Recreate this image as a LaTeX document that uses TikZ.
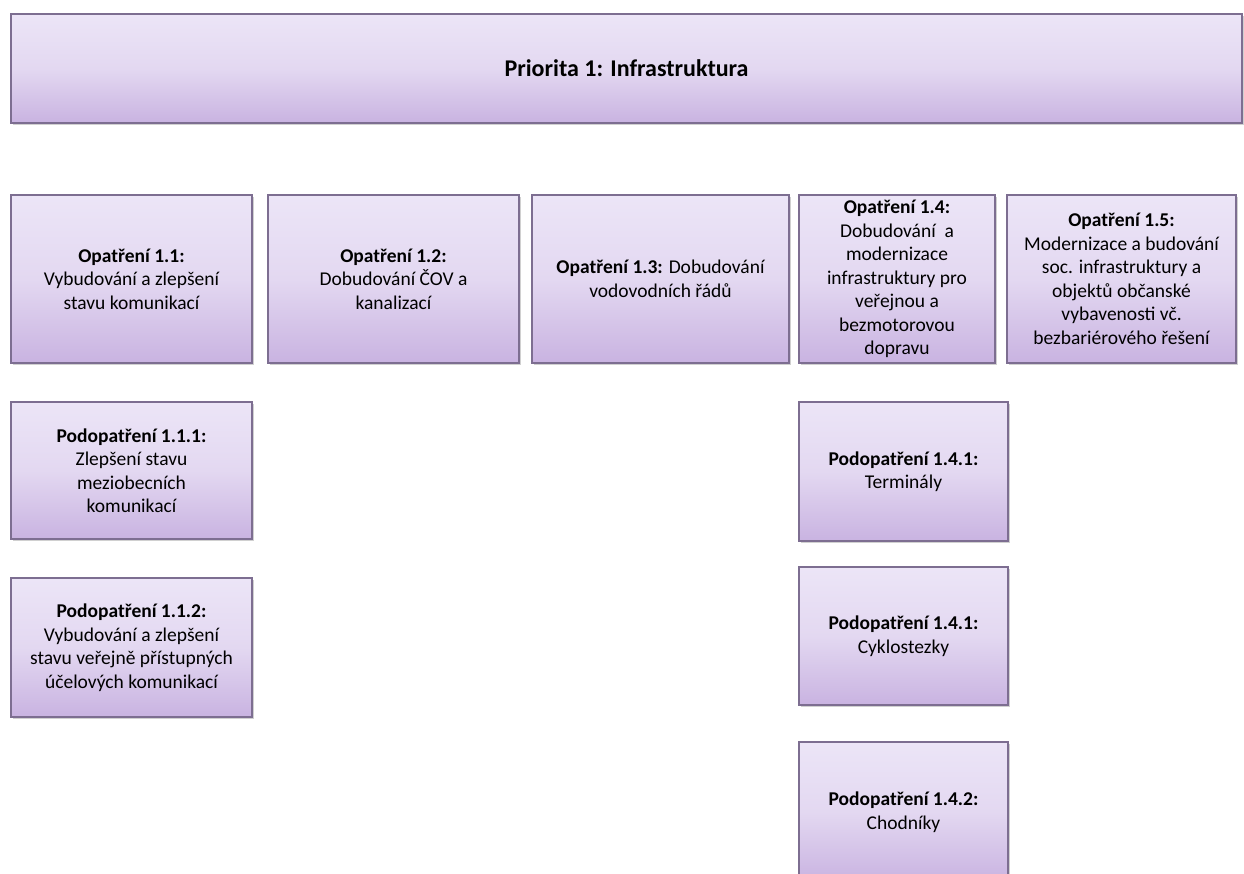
\documentclass[tikz,border=0pt]{standalone}
\usepackage{fontspec}
\setmainfont{Carlito}
\usetikzlibrary{shadows}

\definecolor{boxtop}{HTML}{ECE5F7}
\definecolor{boxmid}{HTML}{E3D8F1}
\definecolor{boxbot}{HTML}{C9B3E1}
\definecolor{boxline}{HTML}{7D6E91}

\begin{document}
\begin{tikzpicture}[x=1pt,y=-1pt,
  box/.style={draw=boxline,line width=1.2pt,top color=boxtop,bottom color=boxbot,middle color=boxmid,
    inner sep=0pt,align=center,text=black,
    font=\fontsize{19.5}{23.5}\selectfont,
    drop shadow={shadow xshift=1.5pt,shadow yshift=-2pt,opacity=0.3,fill=black!60}}]
\clip (0,0) rectangle (1244,874);
\fill[white] (0,0) rectangle (1244,874);

\node[box,minimum width=1231pt,minimum height=109pt,font=\fontsize{24}{28}\selectfont](prio) at (626.5,68.5) {\textbf{Priorita 1: Infrastruktura}};

\node[box,minimum width=241pt,minimum height=168pt](o11) at (131.5,279) {\textbf{Opatření 1.1:}\\Vybudování a zlepšení\\stavu komunikací};
\node[box,minimum width=251pt,minimum height=168pt](o12) at (393.5,279) {\textbf{Opatření 1.2:}\\Dobudování ČOV a\\kanalizací};
\node[box,minimum width=257pt,minimum height=168pt](o13) at (660.5,279) {\textbf{Opatření 1.3:} Dobudování\\vodovodních řádů};
\node[box,minimum width=196pt,minimum height=168pt](o14) at (897,279) {\textbf{Opatření 1.4:}\\Dobudování~ a\\modernizace\\infrastruktury pro\\veřejnou a\\bezmotorovou\\dopravu};
\node[box,minimum width=229pt,minimum height=168pt](o15) at (1121.5,279) {\textbf{Opatření 1.5:}\\Modernizace a budování\\soc. infrastruktury a\\objektů občanské\\vybavenosti vč.\\bezbariérového řešení};

\node[box,minimum width=241pt,minimum height=137pt](p111) at (131.5,470.5) {\textbf{Podopatření 1.1.1:}\\Zlepšení stavu\\meziobecních\\komunikací};
\node[box,minimum width=241pt,minimum height=139pt](p112) at (131.5,647.5) {\textbf{Podopatření 1.1.2:}\\Vybudování a zlepšení\\stavu veřejně přístupných\\účelových komunikací};

\node[box,minimum width=209pt,minimum height=139pt](p141) at (903.5,471.5) {\textbf{Podopatření 1.4.1:}\\Terminály};
\node[box,minimum width=209pt,minimum height=138pt](p141b) at (903.5,636) {\textbf{Podopatření 1.4.1:}\\Cyklostezky};
\node[box,minimum width=209pt,minimum height=140pt](p142) at (903.5,812) {\textbf{Podopatření 1.4.2:}\\Chodníky};
\end{tikzpicture}
\end{document}
